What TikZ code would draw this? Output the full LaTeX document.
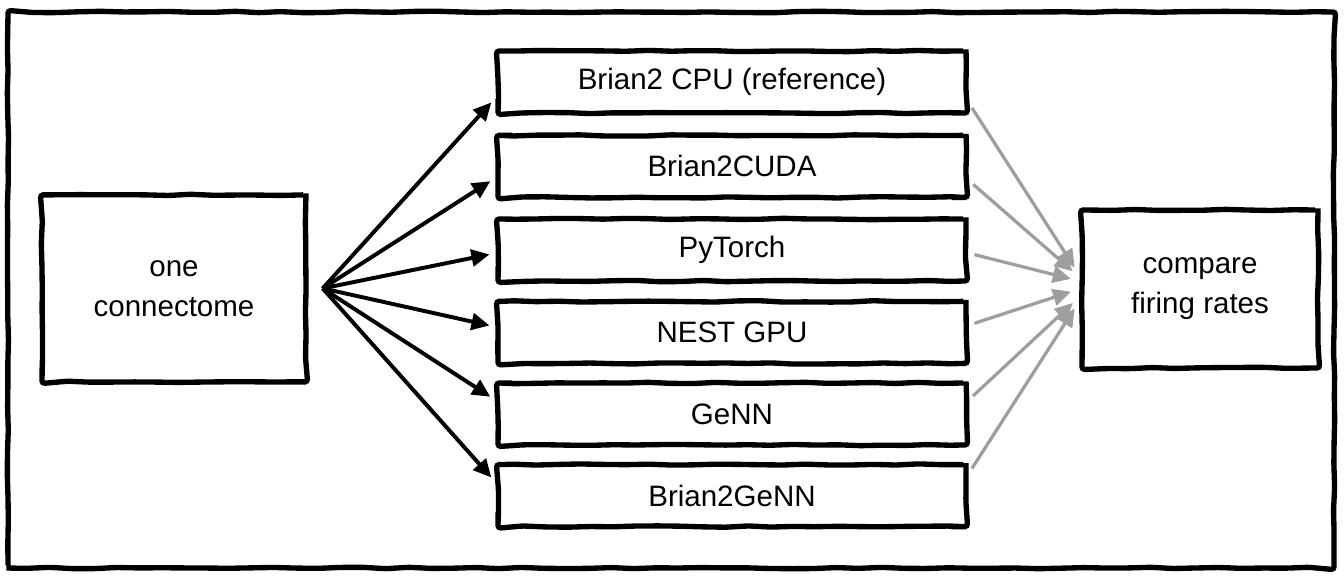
\documentclass[tikz,border=0pt]{standalone}
\usepackage{fontspec}
\setmainfont{Liberation Sans}
\usepackage{xcolor}
\usepackage{tikz}
\usetikzlibrary{decorations.pathmorphing, arrows.meta}
\definecolor{fadedgray}{RGB}{158, 158, 158}

\tikzset{
    sketch/.style={decorate, decoration={random steps, segment length=16pt, amplitude=0.5pt}, rounded corners=2pt},
    box/.style={draw, sketch, line width=3.8pt, align=center, inner sep=0pt,
        font=\fontsize{21}{28.5}\selectfont},
    simbox/.style={box, minimum width=11.7cm, minimum height=1.55cm},
    feed/.style={line width=2.8pt, shorten >=0.15cm, -{Triangle[length=0.45cm, width=0.42cm]}},
    collect/.style={line width=2.3pt, fadedgray, shorten <=0.15cm, shorten >=0.22cm,
        -{Triangle[length=0.45cm, width=0.42cm]}}
}

\begin{document}
\begin{tikzpicture}
    \pgfmathsetseed{7}
    \useasboundingbox (0,0) rectangle (33.6,14.5);

    % Outer frame
    \draw[sketch, line width=3.8pt] (0.2,0.3) rectangle (33.35,14.2);

    % Input and output
    \node[box, minimum width=6.6cm, minimum height=4.675cm] (conn) at (4.35, 7.29) {one\\connectome};
    \node[box, minimum width=5.9cm, minimum height=3.95cm] (rates) at (30.0, 7.275) {compare\\firing rates};

    % Simulators
    \node[simbox] (cpu) at (18.3, 12.45) {Brian2 CPU (reference)};
    \node[simbox] (cuda) at (18.3, 10.34) {Brian2CUDA};
    \node[simbox] (torch) at (18.3, 8.25) {PyTorch};
    \node[simbox] (nest) at (18.3, 6.19) {NEST GPU};
    \node[simbox] (genn) at (18.3, 4.15) {GeNN};
    \node[simbox] (b2genn) at (18.3, 2.11) {Brian2GeNN};

    % Fan out
    \coordinate (fan) at ([xshift=0.35cm]conn.east);
    \draw[feed] (fan) -- ([yshift=-0.4cm]cpu.west);
    \draw[feed] (fan) -- ([yshift=-0.29cm]cuda.west);
    \draw[feed] (fan) -- ([yshift=-0.08cm]torch.west);
    \draw[feed] (fan) -- ([yshift=0.14cm]nest.west);
    \draw[feed] (fan) -- ([yshift=0.35cm]genn.west);
    \draw[feed] (fan) -- ([yshift=0.34cm]b2genn.west);

    % Collect results
    \draw[collect] ([yshift=-0.52cm]cpu.east) -- ([yshift=0.35cm]rates.west);
    \draw[collect] ([yshift=-0.35cm]cuda.east) -- ([yshift=0.3cm]rates.west);
    \draw[collect] ([yshift=-0.08cm]torch.east) -- ([yshift=0.2cm]rates.west);
    \draw[collect] ([yshift=0.18cm]nest.east) -- (rates.west);
    \draw[collect] ([yshift=0.35cm]genn.east) -- ([yshift=-0.2cm]rates.west);
    \draw[collect] ([yshift=0.55cm]b2genn.east) -- ([yshift=-0.3cm]rates.west);
\end{tikzpicture}
\end{document}
